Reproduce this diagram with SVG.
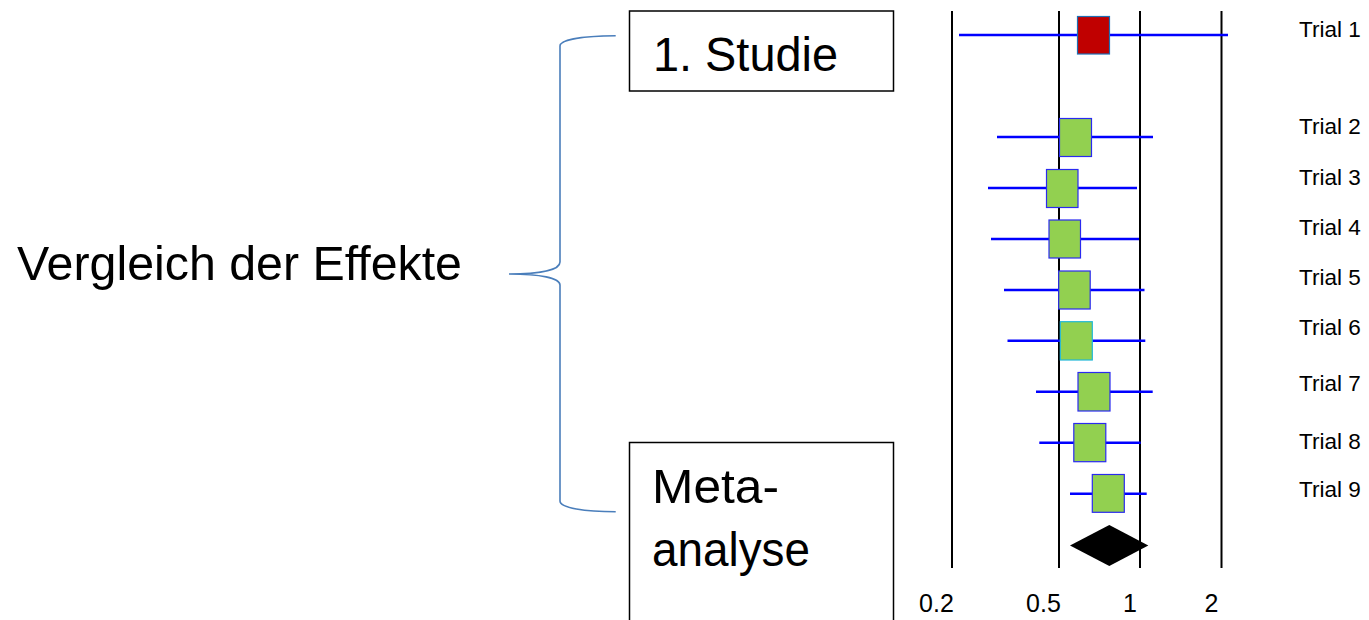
<svg xmlns="http://www.w3.org/2000/svg" width="1369" height="620" viewBox="0 0 1369 620">
  <style>
    .box { fill: #ffffff; stroke: #000000; stroke-width: 1.5; }
    .big { font-family: "Liberation Sans", Arial, sans-serif; font-size: 48px; fill: #000000; }
    .lbl { font-family: "Liberation Sans", Arial, sans-serif; font-size: 22.5px; fill: #000000; }
    .axis { font-family: "Liberation Sans", Arial, sans-serif; font-size: 25px; fill: #000000; text-anchor: middle; }
    .grid { stroke: #000000; stroke-width: 2; }
    .ci { stroke: #0000FF; stroke-width: 2.5; }
    .sq { fill: #92D050; stroke: #2A2AF0; stroke-width: 1.2; }
    .brace { fill: none; stroke: #4A7EBB; stroke-width: 1.6; }
  </style>
  <rect width="1369" height="620" fill="#ffffff"/>

  <g id="label-vergleich">
    <text class="big" x="17" y="280" font-size="42" textLength="445" lengthAdjust="spacingAndGlyphs">Vergleich der Effekte</text>
  </g>

  <g id="node-studie">
    <rect class="box" x="629.5" y="11" width="264" height="80"/>
    <text class="big" x="653" y="71" textLength="185" lengthAdjust="spacingAndGlyphs">1. Studie</text>
  </g>

  <g id="node-meta">
    <rect class="box" x="629.5" y="442.5" width="264" height="190"/>
    <text class="big" x="652" y="503" textLength="127" lengthAdjust="spacingAndGlyphs">Meta-</text>
    <text class="big" x="652" y="566" textLength="158" lengthAdjust="spacingAndGlyphs">analyse</text>
  </g>

  <g id="connectors">
    <path class="brace" d="M615.7,35.7 C585,36 560,39 560,46 L560,262 C560,270 540,274 509,274 C540,274 560,278 560,285 L560,501 C560,508 585,511.7 615.7,511.7"/>
  </g>

  <g id="forest-plot">
    <g id="gridlines">
      <line class="grid" x1="952" y1="11" x2="952" y2="568"/>
      <line class="grid" x1="1059" y1="11" x2="1059" y2="568"/>
      <line class="grid" x1="1140" y1="11" x2="1140" y2="568"/>
      <line class="grid" x1="1221.5" y1="11" x2="1221.5" y2="568"/>
    </g>
    <g id="trial1">
      <line class="ci" x1="959" y1="35" x2="1228" y2="35"/>
      <rect x="1077.5" y="16.5" width="32" height="37.5" fill="#C00000" stroke="#1F6FB4" stroke-width="1.2"/>
    </g>
    <g id="trial2">
      <line class="ci" x1="997" y1="137" x2="1153" y2="137"/>
      <rect class="sq" x="1059.5" y="118.5" width="32" height="38"/>
    </g>
    <g id="trial3">
      <line class="ci" x1="988" y1="188" x2="1137" y2="188"/>
      <rect class="sq" x="1046.5" y="169.5" width="31.5" height="38"/>
    </g>
    <g id="trial4">
      <line class="ci" x1="991" y1="239" x2="1139" y2="239"/>
      <rect class="sq" x="1049" y="220" width="31.5" height="38"/>
    </g>
    <g id="trial5">
      <line class="ci" x1="1004" y1="290" x2="1144.5" y2="290"/>
      <rect class="sq" x="1058.7" y="271" width="31.5" height="38"/>
    </g>
    <g id="trial6">
      <line class="ci" x1="1007.5" y1="340.7" x2="1145.3" y2="340.7"/>
      <rect x="1060.3" y="321.7" width="32" height="38.3" fill="#92D050" stroke="#20B8D8" stroke-width="1.2"/>
    </g>
    <g id="trial7">
      <line class="ci" x1="1036" y1="391.7" x2="1152.7" y2="391.7"/>
      <rect class="sq" x="1078" y="372.5" width="32" height="38.5"/>
    </g>
    <g id="trial8">
      <line class="ci" x1="1039.3" y1="442.7" x2="1140.7" y2="442.7"/>
      <rect class="sq" x="1073.8" y="423.5" width="32" height="38.2"/>
    </g>
    <g id="trial9">
      <line class="ci" x1="1070" y1="493.7" x2="1146.7" y2="493.7"/>
      <rect class="sq" x="1092.3" y="474.5" width="32" height="37.8"/>
    </g>
    <g id="summary">
      <polygon points="1070,545.5 1109.3,525 1148.3,545.5 1109.3,566" fill="#000000"/>
    </g>
    <g id="axis-labels">
      <text class="axis" x="936.5" y="612">0.2</text>
      <text class="axis" x="1043.5" y="612">0.5</text>
      <text class="axis" x="1130" y="612">1</text>
      <text class="axis" x="1211.5" y="612">2</text>
    </g>
    <g id="trial-labels">
      <text class="lbl" x="1299" y="36.5">Trial 1</text>
      <text class="lbl" x="1299" y="133.5">Trial 2</text>
      <text class="lbl" x="1299" y="184.5">Trial 3</text>
      <text class="lbl" x="1299" y="234.5">Trial 4</text>
      <text class="lbl" x="1299" y="284.5">Trial 5</text>
      <text class="lbl" x="1299" y="334.5">Trial 6</text>
      <text class="lbl" x="1299" y="390.5">Trial 7</text>
      <text class="lbl" x="1299" y="448.5">Trial 8</text>
      <text class="lbl" x="1299" y="496.5">Trial 9</text>
    </g>
  </g>
</svg>
